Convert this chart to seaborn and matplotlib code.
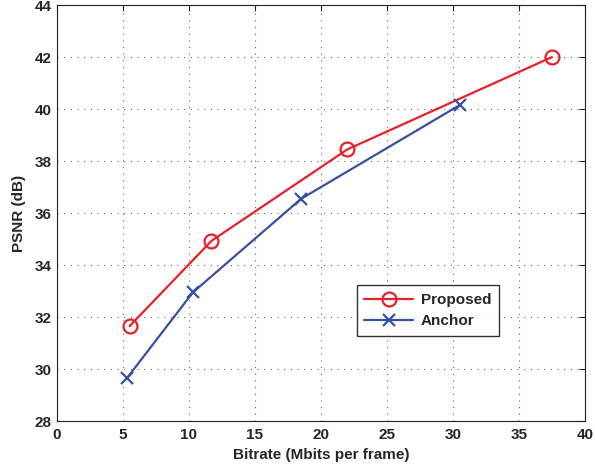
import pandas as pd
import numpy as np
import matplotlib.pyplot as plt
import seaborn as sns

# rate-distortion points
proposed_rate = [5.5, 11.7, 22.0, 37.5]
proposed_psnr = [31.65, 34.93, 38.45, 42.0]
anchor_rate = [5.3, 10.3, 18.5, 30.5]
anchor_psnr = [29.65, 32.95, 36.55, 40.15]

df = pd.concat([
    pd.DataFrame({'rate': proposed_rate, 'psnr': proposed_psnr, 'method': 'Proposed'}),
    pd.DataFrame({'rate': anchor_rate, 'psnr': anchor_psnr, 'method': 'Anchor'}),
])

sns.set_style('white')
plt.rcParams['font.family'] = ['Liberation Sans', 'DejaVu Sans']
plt.rcParams['font.weight'] = 'bold'

fig = plt.figure(figsize=(5.95, 4.68), dpi=100)
ax = fig.add_axes([0.0958, 0.1004, 0.8872, 0.8886])

colors = {'Proposed': '#e8202a', 'Anchor': '#3651a3'}
for name, mk, ms in [('Proposed', 'o', 10), ('Anchor', 'x', 8)]:
    sub = df[df['method'] == name]
    sns.lineplot(data=sub, x='rate', y='psnr', ax=ax, color=colors[name],
                 marker=mk, markersize=ms, markerfacecolor='none',
                 markeredgecolor=colors[name], markeredgewidth=1.6,
                 linewidth=1.6, label=name, sort=False)

ax.set_xlim(0, 40)
ax.set_ylim(28, 44)
ax.set_xticks(np.arange(0, 41, 5))
ax.set_yticks(np.arange(28, 45, 2))
ax.grid(True, color='#666666', linestyle=(0, (1, 5)), linewidth=0.8)
ax.tick_params(direction='in', length=4, top=True, right=True, labelsize=11,
               width=0.8)
ax.tick_params(axis='x', pad=5)
ax.tick_params(axis='y', pad=4)
for lab in ax.get_xticklabels() + ax.get_yticklabels():
    lab.set_fontweight('bold')
for sp in ax.spines.values():
    sp.set_color('#222222')
    sp.set_linewidth(0.8)

ax.set_xlabel('Bitrate (Mbits per frame)', fontsize=11, fontweight='bold', labelpad=4)
ax.set_ylabel('PSNR (dB)', fontsize=11, fontweight='bold', labelpad=6)

leg = ax.legend(loc='lower left', bbox_to_anchor=(0.553, 0.187), fontsize=11,
                handlelength=3.2, frameon=True, fancybox=False, borderpad=0.5,
                labelspacing=0.45, handletextpad=0.5)
leg.get_frame().set_edgecolor('black')
leg.get_frame().set_linewidth(1.0)
for t in leg.get_texts():
    t.set_fontweight('bold')

plt.savefig('out.png', dpi=100)
